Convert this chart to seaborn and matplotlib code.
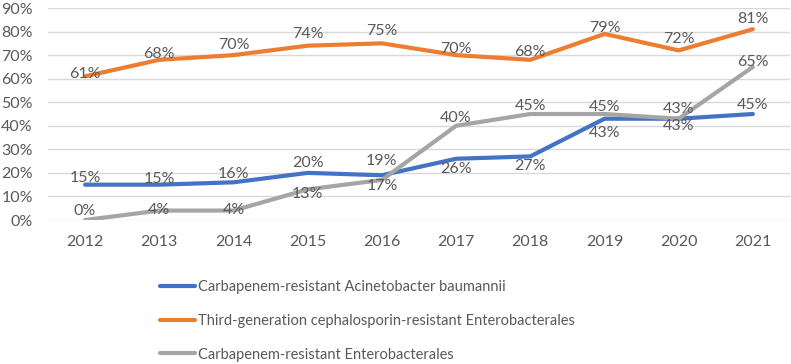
import seaborn as sns
import pandas as pd
import matplotlib.pyplot as plt

years = [2012, 2013, 2014, 2015, 2016, 2017, 2018, 2019, 2020, 2021]
acineto = [15, 15, 16, 20, 19, 26, 27, 43, 43, 45]
cephalo = [61, 68, 70, 74, 75, 70, 68, 79, 72, 81]
carba_ent = [0, 4, 4, 13, 17, 40, 45, 45, 43, 65]

names = ["Carbapenem-resistant Acinetobacter baumannii",
         "Third-generation cephalosporin-resistant Enterobacterales",
         "Carbapenem-resistant Enterobacterales"]
colors = ["#4472C4", "#ED7D31", "#A5A5A5"]

# vertical nudges of the data labels (pixels, + is above the line)
nudges = [
    [7, 6, 8, 10, 14, -10, -10, -14, -7, 9],
    [2, 6, 10, 12, 12, 6, 8, 6, 11, 10],
    [9, 1, 1, -5, -6, 8, 8, 7, 10, 5],
]

sns.set_style("white")
plt.rcParams["font.family"] = ["Lato", "DejaVu Sans"]
txt = "#595959"

df = pd.DataFrame({
    "year": [str(y) for y in years] * 3,
    "value": [v / 100 for v in acineto + cephalo + carba_ent],
    "series": [n for n in names for _ in years],
})

fig = plt.figure(figsize=(7.91, 3.64), dpi=100)
ax = fig.add_axes([48 / 791, 1 - 220 / 364, 742 / 791, 212 / 364])

sns.lineplot(data=df, x="year", y="value", hue="series", hue_order=names,
             palette=colors, linewidth=3, ax=ax, sort=False, zorder=3)

for vals, nud in zip([acineto, cephalo, carba_ent], nudges):
    for i, (v, n) in enumerate(zip(vals, nud)):
        ax.annotate(f"{v}%", (i, v / 100), xytext=(0, n), textcoords="offset pixels",
                    ha="center", va="center", fontsize=11.5, color=txt, zorder=4)

ax.set_ylim(0, 0.9)
ax.set_xlim(-0.5, 9.5)
ax.set_yticks([i / 10 for i in range(10)])
ax.set_yticklabels([f"{i * 10}%" for i in range(10)])
ax.yaxis.grid(True, color="#D9D9D9", linewidth=1)
ax.tick_params(axis="both", length=0, labelsize=11.5, labelcolor=txt)
ax.tick_params(axis="x", pad=11)
ax.tick_params(axis="y", pad=11)
for s in ax.spines.values():
    s.set_visible(False)
ax.set_xlabel("")
ax.set_ylabel("")

h, l = ax.get_legend_handles_labels()
ax.legend_.remove()
fig.legend(h, l, loc="upper left", bbox_to_anchor=(147 / 791, 1 - 267 / 364),
           frameon=False, fontsize=10.5, handlelength=2.4, handletextpad=0.2,
           labelspacing=1.35, labelcolor=txt)

fig.savefig("out.png", dpi=100)
